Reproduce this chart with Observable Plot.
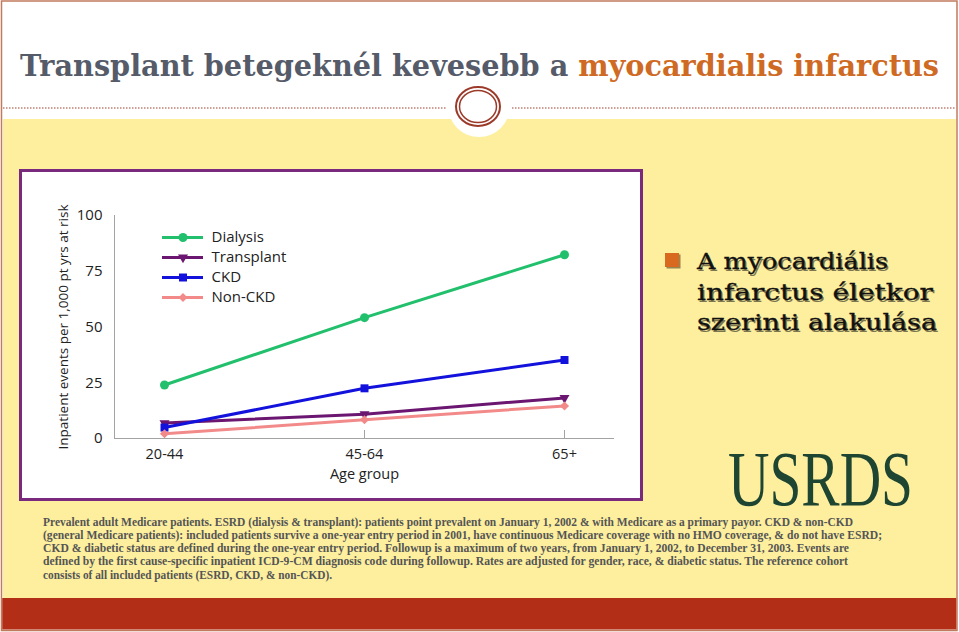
<!DOCTYPE html>
<html>
<head>
<meta charset="utf-8">
<script src="https://cdn.jsdelivr.net/npm/d3@7"></script>
<script src="https://cdn.jsdelivr.net/npm/@observablehq/plot@0.6"></script>
<style>
  html, body { margin: 0; padding: 0; background: #fff; }
  #page { position: relative; width: 959px; height: 632px; overflow: hidden; background: #fff; }
  #deco { position: absolute; left: 0; top: 0; }
  #chart { position: absolute; left: 20px; top: 170px; }
  #legend { position: absolute; left: 150px; top: 220px; }
</style>
</head>
<body>
<div id="page">
  <svg id="deco" width="959" height="632" xmlns="http://www.w3.org/2000/svg"></svg>
  <div id="chart"></div>
  <div id="legend"></div>
</div>
<script>
// ---------- data ----------
const ages = ["20-44", "45-64", "65+"];
const seriesNames = ["Dialysis", "Transplant", "CKD", "Non-CKD"];
const dialysisRates = [24.0, 54.2, 82.4];
const transplantRates = [6.9, 10.9, 18.2];
const ckdRates = [4.9, 22.5, 35.2];
const nonCkdRates = [2.1, 8.4, 14.6];
const yTicks = [0, 25, 50, 75, 100];
const yLabel = "Inpatient events per 1,000 pt yrs at risk";
const xLabel = "Age group";
const titleGray = "Transplant betegeknél kevesebb a ";
const titleOrange = "myocardialis infarctus";
const sideLines = ["A myocardiális", "infarctus életkor", "szerinti alakulása"];
const logoText = "USRDS";
const footnoteLines = [
  "Prevalent adult Medicare patients. ESRD (dialysis & transplant): patients point prevalent on January 1, 2002 & with Medicare as a primary payor. CKD & non-CKD",
  "(general Medicare patients): included patients survive a one-year entry period in 2001, have continuous Medicare coverage with no HMO coverage, & do not have ESRD;",
  "CKD & diabetic status are defined during the one-year entry period. Followup is a maximum of two years, from January 1, 2002, to December 31, 2003. Events are",
  "defined by the first cause-specific inpatient ICD-9-CM diagnosis code during followup. Rates are adjusted for gender, race, & diabetic status. The reference cohort",
  "consists of all included patients (ESRD, CKD, & non-CKD)."
];

// ---------- styles ----------
const seriesStyle = {
  "Dialysis":   {color: "#22c06c", symbol: "circle",   r: 4.5, rotate: 0},
  "Transplant": {color: "#6b1670", symbol: "triangle", r: 3.7, rotate: 180},
  "CKD":        {color: "#1212dc", symbol: "square",   r: 4.5, rotate: 0},
  "Non-CKD":    {color: "#f38a8a", symbol: "diamond2", r: 4.1, rotate: 0}
};
const seriesValues = [dialysisRates, transplantRates, ckdRates, nonCkdRates];
const rows = seriesNames.flatMap((s, i) => ages.map((a, j) => ({series: s, age: a, value: seriesValues[i][j]})));

// ---------- decoration / texts ----------
const NS = "http://www.w3.org/2000/svg";
const deco = document.getElementById("deco");
function el(tag, attrs, parent = deco, text) {
  const e = document.createElementNS(NS, tag);
  for (const k in attrs) e.setAttribute(k, attrs[k]);
  if (text !== undefined) e.textContent = text;
  parent.appendChild(e);
  return e;
}
el("rect", {x: 1.5, y: 1, width: 955.5, height: 629.5, fill: "#fff", stroke: "#c27a5e", "stroke-width": 1.5});
el("rect", {x: 3, y: 119, width: 953, height: 479, fill: "#fdef9e"});
el("ellipse", {cx: 479, cy: 106, rx: 31, ry: 31, fill: "#fff"});
el("line", {x1: 3, x2: 446, y1: 108, y2: 108, stroke: "#a0402e", "stroke-width": 1.2, "stroke-dasharray": "1.5 1.5"});
el("line", {x1: 512, x2: 956, y1: 108, y2: 108, stroke: "#a0402e", "stroke-width": 1.2, "stroke-dasharray": "1.5 1.5"});
el("ellipse", {cx: 478, cy: 106.5, rx: 22, ry: 19.5, fill: "#fff", stroke: "#9c3a2a", "stroke-width": 2});
el("ellipse", {cx: 478, cy: 106.5, rx: 18.5, ry: 16, fill: "none", stroke: "#9c3a2a", "stroke-width": 1.5});
el("rect", {x: 20.5, y: 170.5, width: 621, height: 329, fill: "#fff", stroke: "#7a2a7e", "stroke-width": 3});
el("rect", {x: 2.25, y: 598, width: 954, height: 31.5, fill: "#b22e16"});

// title
const title = el("text", {x: 20, y: 76, textLength: 919, lengthAdjust: "spacingAndGlyphs",
  "font-family": "DejaVu Serif", "font-weight": "bold", "font-size": 30});
el("tspan", {fill: "#555b69"}, title, titleGray);
el("tspan", {fill: "#cf6a24"}, title, titleOrange);

// bullet + side text
el("rect", {x: 666.5, y: 254.5, width: 14, height: 14, fill: "#5a3a20", opacity: 0.6});
el("rect", {x: 665, y: 253, width: 14, height: 14, fill: "#d9691f"});
const sideWidths = [191, 236, 240];
const sideBase = [269, 300, 330];
sideLines.forEach((t, i) => {
  el("text", {x: 698.5, y: sideBase[i] + 1.5, textLength: sideWidths[i], lengthAdjust: "spacingAndGlyphs",
    "font-family": "DejaVu Serif", "font-size": 22, fill: "#000", opacity: 0.5}, deco, t);
  el("text", {x: 697, y: sideBase[i], textLength: sideWidths[i], lengthAdjust: "spacingAndGlyphs",
    "font-family": "DejaVu Serif", "font-size": 22, fill: "#111", stroke: "#111", "stroke-width": 0.3}, deco, t);
});

// logo (narrow font size, stretched vertically)
el("text", {x: 0, y: 0, transform: "translate(728,505) scale(1,1.37)", textLength: 185, lengthAdjust: "spacingAndGlyphs",
  "font-family": "Liberation Serif", "font-size": 57, fill: "#1e4532"}, deco, logoText);

// footnote
const footWidths = [810, 839, 806, 805, 289];
footnoteLines.forEach((t, i) => {
  el("text", {x: 43, y: 525.5 + i * 13.25, textLength: footWidths[i], lengthAdjust: "spacingAndGlyphs",
    "font-family": "Liberation Serif", "font-weight": "bold", "font-size": 12.5, fill: "#555"}, deco, t);
});

// ---------- chart ----------
const axisColor = "#a3a3a3";
const lineMarks = seriesNames.map(s => Plot.line(rows.filter(d => d.series === s),
  {x: "age", y: "value", stroke: seriesStyle[s].color, strokeWidth: 3}));
const dotMarks = seriesNames.map(s => Plot.dot(rows.filter(d => d.series === s),
  {x: "age", y: "value", fill: seriesStyle[s].color, symbol: seriesStyle[s].symbol,
   r: seriesStyle[s].r, rotate: seriesStyle[s].rotate}));

const chart = Plot.plot({
  width: 622, height: 329,
  marginLeft: 94, marginRight: 28, marginTop: 45, marginBottom: 61,
  style: {background: "transparent", color: "#222", fontFamily: "'Open Sans', sans-serif", overflow: "visible"},
  x: {type: "point", domain: ages, range: [143, 544], padding: 0},
  y: {domain: [0, 100]},
  marks: [
    Plot.frame({anchor: "left", stroke: axisColor}),
    Plot.ruleY([0], {stroke: axisColor}),
    Plot.tickX(ages, {x: d => d, stroke: axisColor, insetTop: 215}),
    Plot.axisY({ticks: yTicks, tickSize: 0, tickPadding: 12, fontSize: 15, label: null}),
    Plot.axisY({ticks: [], tickSize: 0, fontSize: 13.5,
      label: yLabel, labelAnchor: "center", labelOffset: 56, labelArrow: "none"}),
    Plot.axisX({tickSize: 0, tickPadding: 10, fontSize: 14.5, label: null}),
    Plot.axisX({ticks: [], tickSize: 0, fontSize: 14.5, label: xLabel, labelAnchor: "center", labelOffset: 40, labelArrow: "none"}),
    ...lineMarks,
    ...dotMarks
  ]
});
document.getElementById("chart").appendChild(chart);

// ---------- legend ----------
const legendMarks = [];
seriesNames.forEach(s => {
  const st = seriesStyle[s];
  legendMarks.push(Plot.ruleY([s], {y: d => d, x1: 0, x2: 1, stroke: st.color, strokeWidth: 3}));
  legendMarks.push(Plot.dot([s], {y: d => d, x: 0.5, fill: st.color, symbol: st.symbol, r: st.r, rotate: st.rotate}));
});
legendMarks.push(Plot.text(seriesNames, {y: d => d, x: 1, text: d => d, dx: 8, textAnchor: "start", fontSize: 15, fill: "#222"}));
const legend = Plot.plot({
  width: 160, height: 90, margin: 0,
  style: {background: "transparent", fontFamily: "'Open Sans', sans-serif", overflow: "visible"},
  x: {domain: [0, 1], range: [12, 53], axis: null},
  y: {type: "point", domain: seriesNames, range: [17, 77], padding: 0, axis: null},
  marks: legendMarks
});
document.getElementById("legend").appendChild(legend);
</script>
</body>
</html>
